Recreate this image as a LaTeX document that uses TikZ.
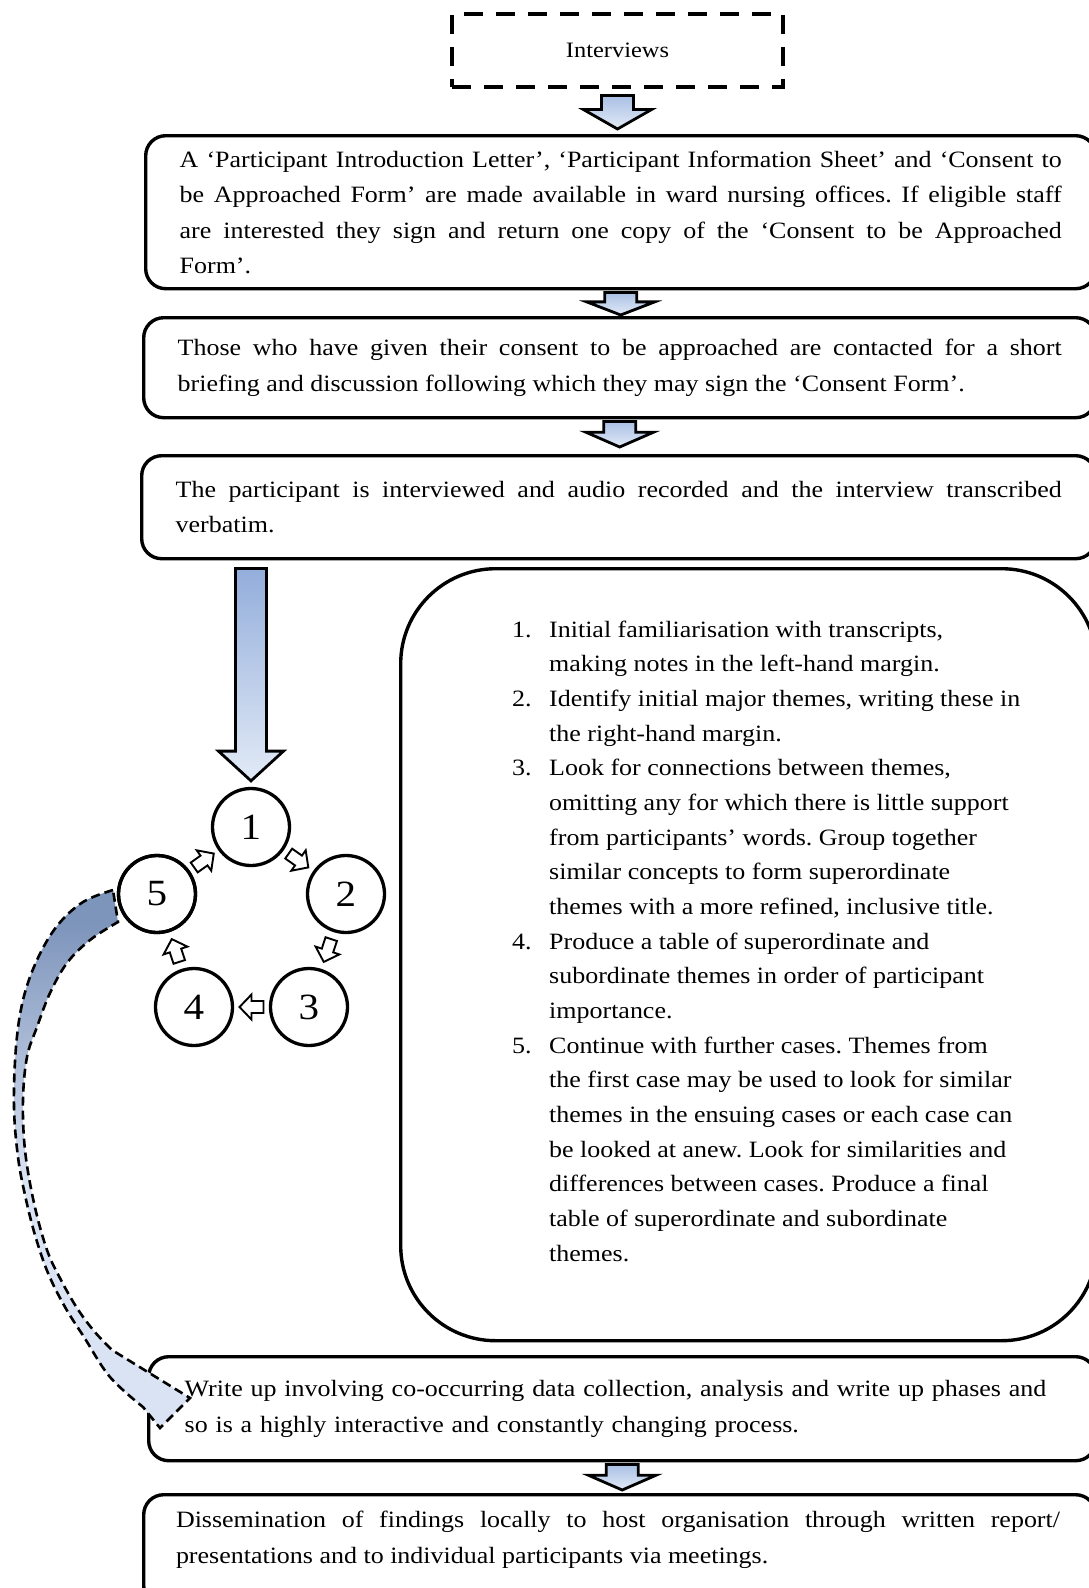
\documentclass[tikz,border=0pt]{standalone}
\usepackage{fontspec}
\setmainfont{Liberation Serif}[FakeStretch=1.11]
\usetikzlibrary{calc}
\definecolor{arrtop}{HTML}{A9C0E4}
\definecolor{arrbot}{HTML}{E2EAF6}
\definecolor{bigtop}{HTML}{93AEDB}
\definecolor{bandDark}{HTML}{7D94BB}
\definecolor{bandLight}{HTML}{DAE3F3}
\pgfdeclareverticalshading{bandshade}{100bp}{color(0bp)=(bandLight); color(48bp)=(bandLight); color(72bp)=(bandDark); color(100bp)=(bandDark)}
\newcommand\bodyfont{\fontsize{23.4}{35.5}\selectfont\frenchspacing\hyphenpenalty=10000\tolerance=9999\hbadness=10000}
\newcommand\listfont{\fontsize{23.4}{34.67}\selectfont\frenchspacing\hyphenpenalty=10000\tolerance=9999\hbadness=10000}
\tikzset{
  box/.style={draw, line width=3.4pt, rounded corners=20pt, anchor=north west,
    inner xsep=34pt, inner ysep=0pt, text width=882pt, align=justify, font=\bodyfont},
  blockarr/.style={draw, line width=2.8pt, top color=arrtop, bottom color=arrbot, line join=miter},
  stage/.style={circle, draw, line width=3.3pt, minimum size=77pt, inner sep=0pt,
    font=\fontsize{37}{40}\selectfont},
  cycarrow/.pic={\draw[line width=1.9pt, fill=white, line join=miter]
    (-12,-6) -- (0,-6) -- (0,-12.5) -- (12,0) -- (0,12.5) -- (0,6) -- (-12,6) -- cycle;},
  bandline/.style={line width=2.6pt, dash pattern=on 9pt off 5pt}
}
% [style] top coordinate, tip coordinate, shaft half width, head half width, fraction where head starts
\newcommand\vblock[6][blockarr]{%
  \coordinate (vbt) at (#2 |- #3);
  \coordinate (vbh) at ($(#2)!#6!(vbt)$);
  \draw[#1] ($(#2)+(-#4,0)$) -- ($(#2)+(#4,0)$) -- ($(vbh)+(#4,0)$) -- ($(vbh)+(#5,0)$)
    -- (vbt) -- ($(vbh)+(-#5,0)$) -- ($(vbh)+(-#4,0)$) -- cycle;}
\begin{document}
\begin{tikzpicture}[x=1pt,y=-1pt]
\fill[white] (0,0) rectangle (1088,1588);
\useasboundingbox (0,0) rectangle (1088,1588);

% top dashed box
\node[draw, line width=4pt, dash pattern=on 19pt off 13pt, minimum width=331pt, minimum height=73pt,
  inner sep=0pt, font=\fontsize{22}{26}\selectfont] (intv) at (617.5,50) {Interviews};

% text boxes
\node[box, minimum height=153pt, text width=882pt] (boxA) at (144,134) {A ‘Participant Introduction Letter’, ‘Participant Information Sheet’ and ‘Consent to\linebreak be Approached Form’ are made available in ward nursing offices. If eligible staff\linebreak are interested they sign and return one copy of the ‘Consent to be Approached\linebreak Form’.};
\node[box, minimum height=100pt, text width=884pt] (boxB) at (142,316) {Those who have given their consent to be approached are contacted for a short\linebreak briefing and discussion following which they may sign the ‘Consent Form’.};
\node[box, minimum height=103pt, text width=886pt] (boxC) at (140,454) {The participant is interviewed and audio recorded and the interview transcribed\linebreak verbatim.};
\node[box, minimum height=104pt, inner xsep=36pt, text width=875pt, align=left] (boxW) at (147,1355) {Write up involving co-occurring data collection, analysis and write up phases and\\so is a highly interactive and constantly changing process.};
\node[box, minimum height=111pt, text width=884pt] (boxD) at (142,1493) {};
\node[font=\bodyfont, text width=884pt, align=justify, inner sep=0pt] (boxDtext) at (618,1540) {Dissemination of findings locally to host organisation through written report/\linebreak presentations and to individual participants via meetings.};

% steps box
\node[draw, line width=3.4pt, rounded corners=95pt, anchor=north west, minimum width=696pt,
  minimum height=772pt, inner sep=0pt] (steps) at (399,567) {};
\node[anchor=base west, inner sep=0pt, font=\listfont] (stepstext) at (512,637) {%
\begin{tabular}[t]{@{}p{37pt}@{}l@{}}
1. & Initial familiarisation with transcripts,\\
   & making notes in the left-hand margin.\\
2. & Identify initial major themes, writing these in\\
   & the right-hand margin.\\
3. & Look for connections between themes,\\
   & omitting any for which there is little support\\
   & from participants’ words. Group together\\
   & similar concepts to form superordinate\\
   & themes with a more refined, inclusive title.\\
4. & Produce a table of superordinate and\\
   & subordinate themes in order of participant\\
   & importance.\\
5. & Continue with further cases. Themes from\\
   & the first case may be used to look for similar\\
   & themes in the ensuing cases or each case can\\
   & be looked at anew. Look for similarities and\\
   & differences between cases. Produce a final\\
   & table of superordinate and subordinate\\
   & themes.
\end{tabular}};

% small block arrows between boxes
\coordinate (a1t) at ($(intv.south)+(0,7)$);
\coordinate (a1p) at ($(boxA.north)+(0,-5)$);
\vblock{a1t}{a1p}{16}{34}{0.42}
\coordinate (a2t) at ($(boxA.south)+(0,2)$);
\coordinate (a2p) at ($(boxB.north)+(0,-1)$);
\vblock{a2t}{a2p}{16}{34}{0.42}
\coordinate (a3t) at ($(boxB.south)+(0,2)$);
\coordinate (a3p) at ($(boxC.north)+(0,-7)$);
\vblock{a3t}{a3p}{16}{34}{0.42}
\coordinate (a4t) at ($(boxW.south)+(0,2)$);
\coordinate (a4p) at ($(boxD.north)+(0,-3)$);
\vblock{a4t}{a4p}{16}{34}{0.42}

% circles
\node[stage] (c1) at (251,827) {1};
\node[stage] (c2) at (346,894) {2};
\node[stage] (c3) at (309,1007) {3};
\node[stage] (c4) at (194,1007) {4};
\node[stage] (c5) at (157,894) {5};

% big arrow from box C to circle 1
\coordinate (bt) at ($(c1 |- boxC.south)+(0,8)$);
\coordinate (bp) at ($(c1.north)+(0,-6)$);
\vblock[blockarr, top color=bigtop]{bt}{bp}{15.5}{32.5}{0.86}

% curved band arrow from circle 5 to write-up box
\shadedraw[shading=bandshade, bandline]
  plot[smooth, tension=0.6] coordinates {(113,890) (83,902) (57,926) (37,960) (23,1000) (16,1047) (14,1107) (18,1157) (25,1195) (35,1235) (48,1273) (65,1307) (84,1337) (110,1377) (143,1407)}
  -- (160,1428) -- (190,1398)
  -- plot[smooth, tension=0.6] coordinates {(112,1350) (94,1331) (77,1308) (61,1280) (47,1250) (34,1203) (25,1150) (23,1100) (27,1057) (37,1027) (50,993) (67,963) (90,940) (118,922)}
  -- cycle;
\draw[line width=3.3pt] (c5) circle (38.5pt);

% cycle arrows
\path (c1) -- (c2) pic[midway, sloped, allow upside down] {cycarrow};
\path (c2) -- (c3) pic[midway, sloped, allow upside down] {cycarrow};
\path (c3) -- (c4) pic[midway, sloped, allow upside down] {cycarrow};
\path (c4) -- (c5) pic[midway, sloped, allow upside down] {cycarrow};
\path (c5) -- (c1) pic[midway, sloped, allow upside down] {cycarrow};
\end{tikzpicture}
\end{document}
